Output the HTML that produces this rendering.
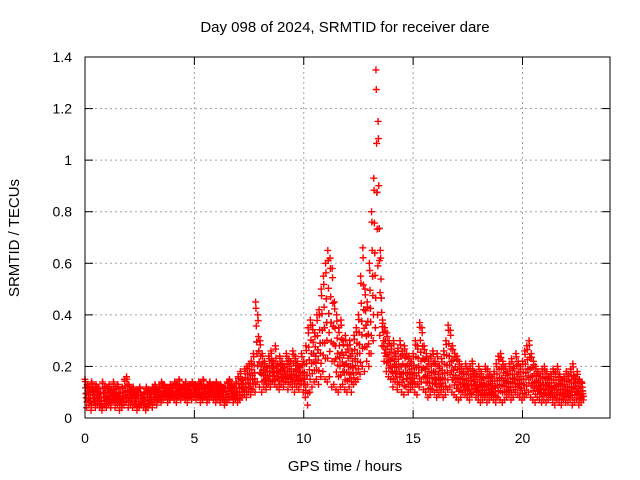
<!DOCTYPE html>
<html><head><meta charset="utf-8"><style>
body{margin:0;background:#fff}
svg{display:block;font-family:"Liberation Sans",sans-serif}
</style></head><body>
<svg id="chart" width="640" height="480" viewBox="0 0 640 480">
<text x="345" y="32" text-anchor="middle" font-size="15">Day 098 of 2024, SRMTID for receiver dare</text>
<g id="grid"></g>
<g id="marks"></g>
<rect x="85" y="57" width="525" height="361" fill="none" stroke="#000" stroke-width="1"/>
<g id="ticks"></g>
<text x="345" y="471" text-anchor="middle" font-size="15">GPS time / hours</text>
<text x="19" y="238" text-anchor="middle" font-size="15" transform="rotate(-90 19 238)">SRMTID / TECUs</text>
</svg>
<script>
const xTicks=[0,5,10,15,20];
const yTicks=[0,0.2,0.4,0.6,0.8,1,1.2,1.4];
const yTickLabels=["0","0.2","0.4","0.6","0.8","1","1.2","1.4"];
const hiVals=[.15,.13,.12,.14,.11,.13,.12,.10,.14,.12,
.12,.13,.11,.14,.12,.13,.10,.12,.15,.16,
.13,.11,.12,.10,.11,.12,.09,.10,.12,.11,
.10,.12,.13,.11,.12,.14,.13,.12,.11,.13,
.12,.14,.13,.15,.12,.13,.14,.12,.13,.14,
.13,.12,.14,.13,.15,.12,.13,.14,.12,.13,
.14,.12,.13,.11,.12,.14,.15,.13,.12,.14,
.16,.18,.15,.19,.20,.21,.22,.25,.45,.40,
.30,.25,.22,.20,.24,.26,.22,.28,.21,.24,
.22,.20,.25,.23,.22,.26,.24,.22,.20,.25,
.22,.28,.35,.38,.36,.33,.40,.42,.50,.55,
.60,.65,.62,.58,.45,.40,.35,.38,.30,.32,
.28,.30,.26,.32,.35,.40,.55,.66,.50,.45,
.60,.80,.93,1.35,1.15,.65,.38,.35,.33,.30,
.28,.30,.25,.27,.30,.26,.28,.25,.24,.22,
.25,.30,.28,.37,.35,.28,.25,.22,.24,.26,
.22,.25,.20,.23,.26,.30,.36,.34,.28,.25,
.24,.22,.20,.18,.21,.19,.20,.22,.18,.17,
.20,.18,.16,.20,.19,.17,.16,.18,.21,.24,
.25,.22,.20,.18,.21,.23,.20,.25,.22,.20,
.22,.26,.28,.30,.25,.22,.20,.18,.17,.19,
.20,.18,.16,.17,.19,.18,.20,.17,.15,.16,
.18,.17,.19,.21,.16,.18,.15,.14];
const loVals=[.04,.05,.03,.06,.04,.05,.04,.03,.05,.04,
.05,.04,.06,.04,.05,.03,.04,.05,.06,.04,
.05,.04,.05,.03,.04,.05,.04,.03,.04,.05,
.04,.06,.05,.07,.06,.07,.08,.06,.07,.08,
.07,.06,.08,.07,.08,.07,.06,.08,.07,.08,
.07,.08,.06,.07,.08,.06,.07,.08,.07,.06,
.07,.06,.07,.05,.06,.07,.08,.06,.07,.06,
.07,.08,.09,.08,.10,.09,.11,.10,.14,.12,
.10,.12,.11,.13,.12,.14,.13,.12,.11,.13,
.12,.14,.11,.13,.12,.10,.12,.11,.13,.10,
.08,.05,.10,.12,.14,.15,.13,.16,.18,.15,
.14,.16,.12,.13,.11,.10,.12,.13,.11,.10,
.12,.10,.13,.14,.15,.17,.20,.18,.22,.20,
.25,.30,.35,.40,.32,.28,.22,.18,.16,.15,
.12,.14,.11,.13,.10,.09,.12,.10,.11,.12,
.10,.09,.12,.14,.11,.10,.08,.09,.11,.10,
.08,.09,.10,.08,.09,.11,.12,.10,.09,.08,
.07,.08,.10,.09,.08,.07,.09,.10,.08,.07,
.06,.07,.08,.06,.07,.08,.07,.06,.08,.07,
.06,.07,.08,.09,.07,.08,.10,.09,.08,.07,
.08,.09,.10,.08,.07,.06,.08,.07,.06,.07,
.06,.07,.08,.06,.05,.07,.06,.05,.07,.06,
.06,.07,.05,.06,.07,.05,.06,.07];
const timeStep=0.1;
const X0=85,X1=610,Y0=418,Y1=57,XMAX=24,YMAX=1.4;
function xs(v){return X0+(X1-X0)*v/XMAX;}
function ys(v){return Y0-(Y0-Y1)*v/YMAX;}
const NS="http://www.w3.org/2000/svg";
const grid=document.getElementById('grid'),ticks=document.getElementById('ticks'),marks=document.getElementById('marks');
function mk(tag,attrs,parent){const e=document.createElementNS(NS,tag);for(const k in attrs)e.setAttribute(k,attrs[k]);parent.appendChild(e);return e;}
xTicks.forEach(t=>{
  const x=xs(t);
  if(t>0){const g=mk('line',{x1:x,x2:x,y1:Y1,y2:Y0,stroke:'#a0a0a0','stroke-dasharray':'2,3'},grid);
  
  }
  const a=mk('line',{x1:x,x2:x,y1:Y0,y2:Y0-8,stroke:'#000'},ticks);
  
  
  const b=mk('line',{x1:x,x2:x,y1:Y1,y2:Y1+8,stroke:'#000'},ticks);
  
  
  const l=mk('text',{x:x,y:Y0+25,'text-anchor':'middle','font-size':'14'},ticks);l.textContent=t;
  
  
});
yTicks.forEach((t,i)=>{
  const y=ys(t);
  if(t>0&&t<YMAX){const g=mk('line',{x1:X0,x2:X1,y1:y,y2:y,stroke:'#a0a0a0','stroke-dasharray':'2,3'},grid);
  
  }
  const a=mk('line',{x1:X0,x2:X0+8,y1:y,y2:y,stroke:'#000'},ticks);
  
  
  const b=mk('line',{x1:X1,x2:X1-8,y1:y,y2:y,stroke:'#000'},ticks);
  
  
  const l=mk('text',{x:X0-13,y:y+5,'text-anchor':'end','font-size':'14'},ticks);l.textContent=yTickLabels[i];
  
  
});
function plus(t,v,color){
  const x=xs(t),y=ys(v);
  const p=mk('path',{d:`M${x-3.5},${y}h7M${x},${y-3.5}v7`,stroke:color,'stroke-width':'1.4',fill:'none'},marks);
  
  
}
// black points underneath
loVals.forEach((v,i)=>{plus(i*timeStep+0.05,(v+hiVals[i])/2,'#333');});
hiVals.forEach((v,i)=>{
  const t=i*timeStep, lo=loVals[i];
  plus(t,v,'#f00');
  plus(t+0.015,v-(v-lo)*0.08,'#f00');
  plus(t+0.03,lo+(v-lo)*0.7,'#f00');
  plus(t+0.045,lo+(v-lo)*0.5,'#f00');
  plus(t+0.06,lo+(v-lo)*0.35,'#f00');
  plus(t+0.075,lo,'#f00');
  plus(t+0.09,lo+(v-lo)*0.2,'#f00');
});
</script>
</body></html>
